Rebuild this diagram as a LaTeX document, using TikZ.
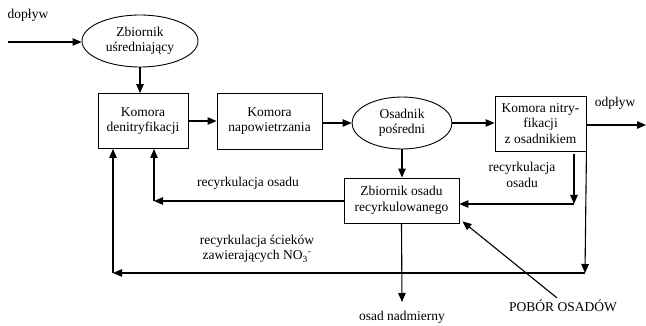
\documentclass[tikz,border=0pt]{standalone}
\usepackage{fontspec}
\setmainfont{Liberation Serif}
\usetikzlibrary{shapes.geometric,arrows.meta,calc}
\begin{document}
\begin{tikzpicture}[x=1pt,y=-1pt,
  every node/.style={font=\fontsize{13.5}{15.5}\selectfont, align=center, inner sep=0pt},
  proc/.style={draw, line width=0.9pt, rectangle},
  tank/.style={draw, line width=0.9pt, ellipse},
  arr/.style={line width=1.1pt, -{Triangle[length=9pt,width=7.5pt]}},
  ln/.style={line width=1.1pt}]
\useasboundingbox (0,0) rectangle (646,326);
% nodes
\node[tank, minimum width=116, minimum height=52] (zb) at (140,41) {Zbiornik\\uśredniający};
\node[proc, minimum width=90, minimum height=55] (den) at (143,121) {Komora\\denitryfikacji};
\node[proc, minimum width=105, minimum height=56] (nap) at (269.5,121) {Komora\\napowietrzania};
\node[tank, minimum width=100, minimum height=52] (osp) at (402,123) {Osadnik\\pośredni};
\node[proc, minimum width=91, minimum height=55] (nit) at (540.5,123.5) {Komora nitry-\\fikacji\\z osadnikiem};
\node[proc, minimum width=115, minimum height=45] (zor) at (401.5,200.5) {Zbiornik osadu\\recyrkulowanego};
% labels
\node (ldop) at (28,15) {dopływ};
\node (lodp) at (615,103) {odpływ};
\node (lro1) at (522,175) {recyrkulacja\\osadu};
\node (lro2) at (248,183) {recyrkulacja osadu};
\node (lrs) at (257,249) {recyrkulacja ścieków\\zawierających NO\textsubscript{3}\textsuperscript{-}};
\node (lon) at (402,317) {osad nadmierny};
\node (pob) at (563,306) {POBÓR OSADÓW};
% coordinates
\coordinate (in) at (8,42);
\coordinate (out) at (646,125);
\coordinate (c1) at (574,204);
\coordinate (c2) at (585,273);
\coordinate (c3) at (113,273);
\coordinate (c4) at (154,201);
\coordinate (c5) at (402,302);
% connectors
\draw[arr] (in) -- (in -| zb.west);
\draw[arr] (zb.south) -- (zb.south |- den.north);
\draw[arr] (den.east) -- (nap.west);
\draw[arr] (nap.east |- osp.west) -- (osp.west);
\draw[arr] (osp.east) -- (osp.east -| nit.west);
\draw[arr] (nit.east |- out) -- (out);
\draw[arr] (osp.south) -- (osp.south |- zor.north);
\draw[arr] (c1 |- nit.south) ++(0,3) -- (c1);
\draw[arr] (c1) -- (c1 -| zor.east);
\draw[arr] (nit.south east) -- (c2);
\draw[arr] (c2) -- (c3);
\draw[arr] (c3) -- (c3 |- den.south);
\draw[arr] (c4 -| zor.west) -- (c4);
\draw[arr] (c4) -- (c4 |- den.south);
\draw[arr] (zor.south) -- (c5);
\draw[arr] ($(pob.north)+(-6,-2)$) -- ($(zor.south east)+(3,-2)$);
\end{tikzpicture}
\end{document}
